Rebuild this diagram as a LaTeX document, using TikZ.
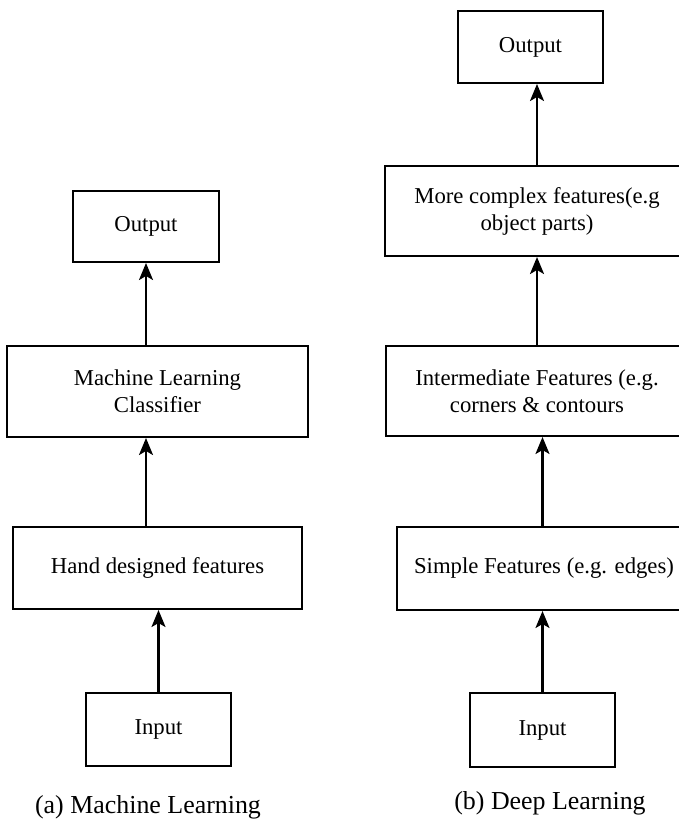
\documentclass[tikz,border=0pt]{standalone}
\usepackage{fontspec}
\setmainfont{Liberation Serif}
\usetikzlibrary{arrows.meta}

\begin{document}
\begin{tikzpicture}[x=1bp, y=-1bp,
    box/.style={draw, line width=2bp, inner sep=0pt, align=center,
      font=\fontsize{22.8}{27}\selectfont},
    arr/.style={line width=2.2bp, -{Stealth[length=17bp, width=14bp, inset=4bp]}},
    caption/.style={font=\fontsize{26}{30}\selectfont}]
  \useasboundingbox (0,0) rectangle (679,820);
  \clip (0,0) rectangle (679,820);
  % (a) machine learning
  \node [box, minimum width=146bp, minimum height=71bp] (outA) at (146,226.5) {Output};
  \node [box, minimum width=301bp, minimum height=91bp] (clsA) at (157.5,391.5) {Machine Learning\\Classifier};
  \node [box, minimum width=289bp, minimum height=82bp] (hndA) at (157.5,568) {Hand designed features};
  \node [box, minimum width=145bp, minimum height=73bp] (inA) at (158.5,729.5) {Input};
  \draw [arr] (inA.north) -- (inA.north |- hndA.south);
  \draw [arr] (hndA.north -| outA.south) -- (clsA.south -| outA.south);
  \draw [arr] (clsA.north -| outA.south) -- (outA.south);
  \node [caption] (capA) at (148,807) {(a) Machine Learning};
  % (b) deep learning
  \node [box, minimum width=145bp, minimum height=72bp] (outB) at (530.5,47) {Output};
  \node [box, minimum width=304bp, minimum height=90bp] (cpxB) at (537,211) {More complex features(e.g\\object parts)};
  \node [box, minimum width=302bp, minimum height=90bp] (midB) at (537,391) {Intermediate Features (e.g.\\corners \& contours};
  \node [box, minimum width=294bp, minimum height=83bp] (smpB) at (544,568.5) {Simple Features (e.g. edges)};
  \node [box, minimum width=145bp, minimum height=74bp] (inB) at (542.5,730) {Input};
  \draw [arr] (inB.north) -- (inB.north |- smpB.south);
  \draw [arr] (smpB.north -| inB.north) -- (midB.south -| inB.north);
  \draw [arr] (midB.north -| cpxB.south) -- (cpxB.south);
  \draw [arr] (cpxB.north) -- (outB.south -| cpxB.north);
  \node [caption] (capB) at (550,803) {(b) Deep Learning};
\end{tikzpicture}
\end{document}
